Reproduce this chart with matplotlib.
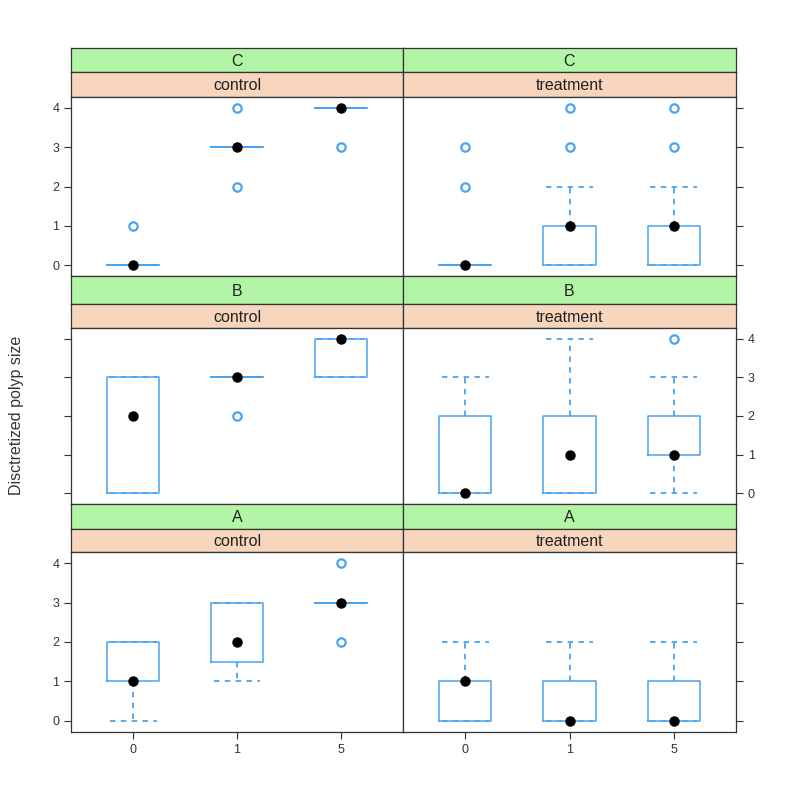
import numpy as np
import matplotlib.pyplot as plt

plt.rcParams['font.family'] = ['Liberation Sans', 'DejaVu Sans']

# categories on the x axis, panel groups
doses = ["0", "1", "5"]
groups = ["C", "B", "A"]          # top to bottom
arms = ["control", "treatment"]   # left to right

# box stats per (group, arm): lists over doses of
# (low whisker, q1, median, q3, high whisker, outliers)
stats = {
    ("C", "control"): [(0, 0, 0, 0, 0, [1]),
                       (3, 3, 3, 3, 3, [2, 4]),
                       (4, 4, 4, 4, 4, [3])],
    ("C", "treatment"): [(0, 0, 0, 0, 0, [2, 3]),
                         (0, 0, 1, 1, 2, [3, 4]),
                         (0, 0, 1, 1, 2, [3, 4])],
    ("B", "control"): [(0, 0, 2, 3, 3, []),
                       (3, 3, 3, 3, 3, [2]),
                       (3, 3, 4, 4, 4, [])],
    ("B", "treatment"): [(0, 0, 0, 2, 3, []),
                         (0, 0, 1, 2, 4, []),
                         (0, 1, 1, 2, 3, [4])],
    ("A", "control"): [(0, 1, 1, 2, 2, []),
                       (1, 1.5, 2, 3, 3, []),
                       (3, 3, 3, 3, 3, [2, 4])],
    ("A", "treatment"): [(0, 0, 1, 1, 2, []),
                         (0, 0, 0, 1, 2, []),
                         (0, 0, 0, 1, 2, [])],
}
yticks = [0, 1, 2, 3, 4]

W = H = 793
fig = plt.figure(figsize=(7.93, 7.93), dpi=100)

def box(x0, y0, x1, y1):
    # pixel box (top-left origin) -> figure fraction
    return [x0 / W, 1 - y1 / H, (x1 - x0) / W, (y1 - y0) / H]

blue = "#4aa3f0"
edge = "#333333"
green = "#b3f5a6"
peach = "#f7d6bd"
cols_x = [(71, 403), (403, 736)]
rows_y = [(48, 72, 97, 276), (276, 304, 328, 504), (504, 529, 552, 732)]

for r, g in enumerate(groups):
    yg, yp, yt, yb = rows_y[r]
    for c, arm in enumerate(arms):
        x0, x1 = cols_x[c]
        for (ya, yb2, col, txt) in [(yg, yp, green, g), (yp, yt, peach, arm)]:
            sa = fig.add_axes(box(x0, ya, x1, yb2))
            sa.set_facecolor(col)
            sa.set_xticks([]); sa.set_yticks([])
            for s in sa.spines.values():
                s.set_color(edge); s.set_linewidth(0.9)
            sa.text(0.5, 0.45, txt, ha="center", va="center", fontsize=11.5,
                    color="#222222", transform=sa.transAxes)

        ax = fig.add_axes(box(x0, yt, x1, yb))
        bs = []
        for i, (lo, q1, med, q3, hi, fl) in enumerate(stats[(g, arm)]):
            bs.append(dict(whislo=lo, q1=q1, med=med, q3=q3, whishi=hi, fliers=fl))
        ax.bxp(bs, positions=[1, 2, 3], widths=0.5, showfliers=True,
               boxprops=dict(color=blue, linewidth=1.1),
               whiskerprops=dict(color=blue, linewidth=1.3, linestyle=(0, (3, 3))),
               capprops=dict(color=blue, linewidth=1.3, linestyle=(0, (3, 3))),
               medianprops=dict(linewidth=0),
               flierprops=dict(marker="o", markersize=6, markerfacecolor="none",
                               markeredgecolor=blue, markeredgewidth=1.6),
               capwidths=0.45)
        meds = [s[2] for s in stats[(g, arm)]]
        ax.plot([1, 2, 3], meds, "o", color="black", markersize=6.5, zorder=5)
        ax.set_xlim(0.4, 3.6)
        ax.set_ylim(-0.28, 4.28)
        for s in ax.spines.values():
            s.set_color(edge); s.set_linewidth(0.9)
        ax.tick_params(axis="both", which="both", colors=edge, labelcolor="#333333",
                       labelsize=9, length=5, width=0.8, direction="out")
        ax.set_yticks(yticks)
        ax.set_xticks([1, 2, 3])
        # alternating axes like lattice
        left_lab = (r != 1)
        if c == 0:
            ax.tick_params(axis="y", left=True, labelleft=left_lab, right=False)
        else:
            ax.tick_params(axis="y", left=False, right=True, labelright=(r == 1), labelleft=False)
        if r == 2:
            ax.tick_params(axis="x", bottom=True, labelbottom=True, top=False)
            ax.set_xticklabels(doses)
        else:
            ax.tick_params(axis="x", bottom=False, labelbottom=False, top=False)

fig.text(17 / W, 1 - 415 / H, "Disctretized polyp size", rotation=90,
         ha="center", va="center", fontsize=11.5, color="#333333")

fig.savefig("out.png", dpi=100)
